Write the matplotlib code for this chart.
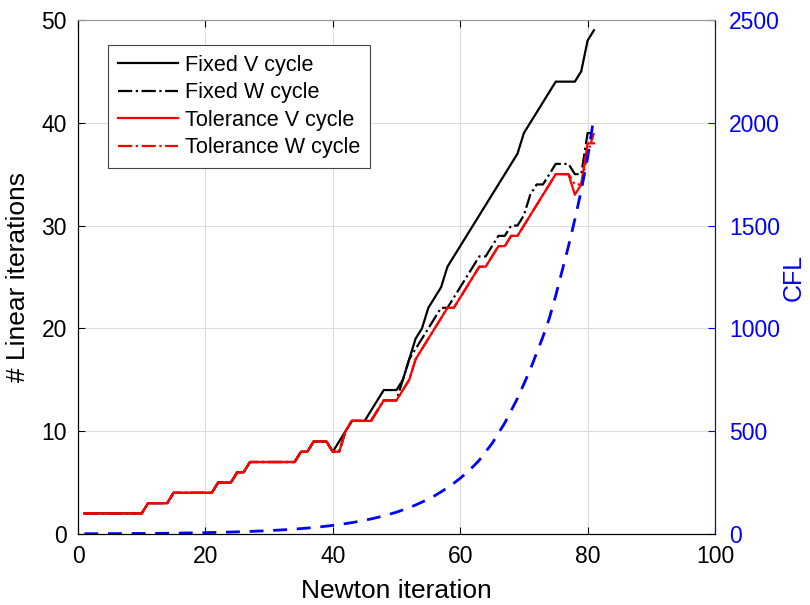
import matplotlib.pyplot as plt
import numpy as np

plt.rcParams['font.family'] = ['Liberation Sans', 'DejaVu Sans']
plt.rcParams['font.size'] = 14

# Newton iterations 1..81
newton = np.arange(1, 82)

# Tolerance V cycle (linear iterations per Newton step)
tol_v = [2]*10 + [3]*4 + [4]*7 + [5]*3 + [6]*2 + [7]*8 + [8]*2 + [9]*3 + [8]*2 + \
        [10] + [11]*4 + [12] + [13]*3 + [14, 15, 17, 18, 19, 20, 21, 22, 22, 23, 24, 25,
        26, 26, 27, 28, 28, 29, 29, 30, 31, 32, 33, 34, 35, 35, 35, 33, 34, 38, 38]

# Tolerance W cycle
tol_w = tol_v[:77] + [34, 34, 37, 39]

# Fixed V cycle
fix_v = tol_v[:39] + [8, 9, 10, 11, 11, 11, 12, 13, 14, 14, 14, 15, 17, 19, 20, 22, 23,
                      24, 26, 27, 28, 29, 30, 31, 32, 33, 34, 35, 36, 37, 39, 40, 41,
                      42, 43, 44, 44, 44, 44, 45, 48, 49]

# Fixed W cycle
fix_w = tol_v[:50] + [15, 17, 18, 19, 20, 21, 22, 22, 23, 24, 25, 26, 27, 27, 28, 29,
                      29, 30, 30, 31, 33, 34, 34, 35, 36, 36, 36, 35, 35, 39, 39]

# CFL number
cfl = [1.1, 1.2, 1.3, 1.4, 1.6, 1.7, 1.9, 2.1, 2.3, 2.5, 2.8, 3.0, 3.3, 3.7, 4.0, 4.4,
       4.9, 5.3, 5.9, 6.4, 7.1, 7.8, 8.5, 9.4, 10.3, 11.3, 12.4, 13.6, 14.9, 16.4, 18.0,
       19.8, 21.7, 23.8, 26.2, 28.7, 31.6, 34.7, 38.1, 41.8, 45.9, 50.4, 55.3, 60.7, 66.7,
       73.2, 80.4, 88.3, 97, 106, 117, 128, 141, 155, 170, 186, 205, 225, 247, 271, 298,
       327, 359, 400, 440, 490, 540, 600, 660, 730, 800, 880, 960, 1050, 1160, 1280, 1400,
       1530, 1670, 1830, 2030]

fig = plt.figure(figsize=(8.1, 6.05), dpi=100)
ax = fig.add_axes([0.0963, 0.1174, 0.7864, 0.8496])

ax.plot(newton, fix_v, '-', color='black', lw=1.6, label='Fixed V cycle')
ax.plot(newton, fix_w, '-.', color='black', lw=1.6, label='Fixed W cycle')
ax.plot(newton, tol_v, '-', color='red', lw=1.6, label='Tolerance V cycle')
ax.plot(newton, tol_w, '-.', color='red', lw=1.6, label='Tolerance W cycle')

ax.set_xlim(0, 100)
ax.set_ylim(0, 50)
ax.set_xticks(np.arange(0, 101, 20))
ax.set_yticks(np.arange(0, 51, 10))
ax.grid(True, color='#dcdcdc', lw=0.8)
ax.set_axisbelow(True)
ax.tick_params(direction='in', top=True, length=5, labelsize=16.5)
ax.tick_params(axis='x', pad=8)
ax.tick_params(axis='y', pad=8)
ax.spines['top'].set_color('#999999')
ax.set_xlabel('Newton iteration', fontsize=19, labelpad=8)
ax.set_ylabel('# Linear iterations', fontsize=19, labelpad=8)

ax2 = ax.twinx()
ax2.plot(newton, cfl, '--', color='blue', lw=2, dashes=(5, 3.5))
ax2.set_ylim(0, 2500)
ax2.set_yticks(np.arange(0, 2501, 500))
ax2.tick_params(direction='in', colors='blue', length=5, labelsize=16.5, pad=10)
ax2.spines['right'].set_color('blue')
ax2.spines['top'].set_color('#999999')
ax2.set_ylabel('CFL', color='blue', fontsize=18, labelpad=1)

leg = ax.legend(loc='upper left', bbox_to_anchor=(0.047, 0.951), fontsize=15.6,
                handlelength=2.8, handletextpad=0.32, borderpad=0.45, labelspacing=0.3,
                borderaxespad=0, fancybox=False, framealpha=1)
leg.get_frame().set_edgecolor('#444444')
leg.get_frame().set_linewidth(0.8)

fig.savefig('out.png', dpi=100)
